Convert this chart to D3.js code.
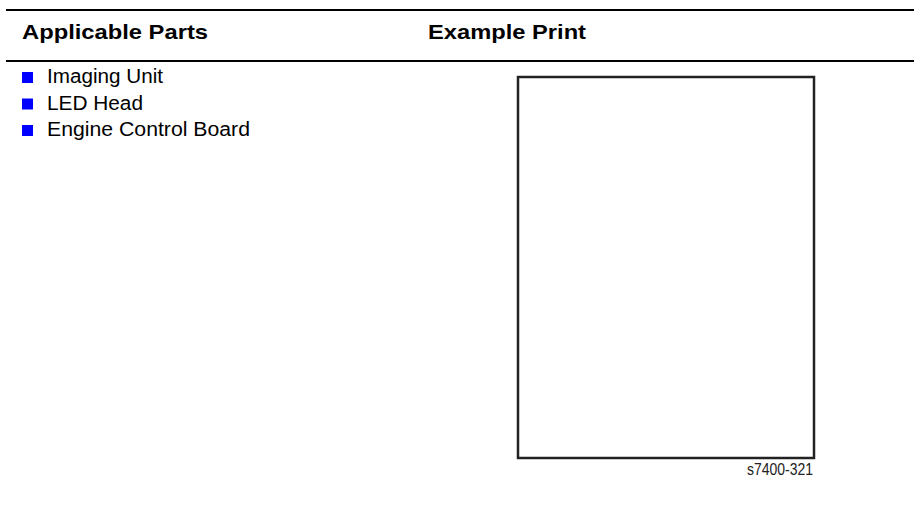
<!DOCTYPE html>
<html><head><meta charset="utf-8">
<script src="https://cdn.jsdelivr.net/npm/d3@7/dist/d3.min.js"></script>
<style>html,body{margin:0;padding:0;background:#fff;}svg{display:block;}</style>
</head><body>
<script>
const headers = ["Applicable Parts", "Example Print"];
const headerWidths = [186, 158];
const parts = ["Imaging Unit", "LED Head", "Engine Control Board"];
const partWidths = [116, 96, 203];
const figureLabel = "s7400-321";

const W = 914, H = 518;
const svg = d3.select("body").append("svg").attr("width", W).attr("height", H);

// rules
svg.selectAll("line.rule").data([10, 61]).join("line")
  .attr("x1", 6).attr("x2", W).attr("y1", d => d).attr("y2", d => d)
  .attr("stroke", "#000").attr("stroke-width", 2);

const hx = d3.scaleOrdinal().domain(headers).range([22, 428]);
svg.selectAll("text.hdr").data(headers).join("text")
  .attr("x", d => hx(d)).attr("y", 39)
  .attr("font-family", "Liberation Sans, Arial, sans-serif")
  .attr("font-weight", "bold").attr("font-size", 20.5)
  .attr("textLength", (d, i) => headerWidths[i]).attr("lengthAdjust", "spacingAndGlyphs")
  .attr("fill", "#000").text(d => d);

const y = d3.scalePoint().domain(parts).range([83, 136]);
const g = svg.selectAll("g.item").data(parts).join("g");
g.append("rect").attr("x", 22).attr("y", d => y(d) - 11).attr("width", 11).attr("height", 11)
  .attr("fill", "#0000ff");
g.append("text").attr("x", 47).attr("y", d => y(d))
  .attr("font-family", "Liberation Sans, Arial, sans-serif").attr("font-size", 19.5)
  .attr("textLength", (d, i) => partWidths[i]).attr("lengthAdjust", "spacingAndGlyphs")
  .attr("fill", "#000").text(d => d);

// example print page
svg.append("rect").attr("x", 518).attr("y", 77).attr("width", 296).attr("height", 381)
  .attr("fill", "#fff").attr("stroke", "#222").attr("stroke-width", 2.5);

svg.append("text").attr("x", 813).attr("y", 475).attr("text-anchor", "end")
  .attr("font-family", "Liberation Sans Narrow, Arial Narrow, sans-serif").attr("font-size", 16)
  .attr("textLength", 66).attr("lengthAdjust", "spacingAndGlyphs")
  .attr("fill", "#222").text(figureLabel);
</script>
</body></html>
